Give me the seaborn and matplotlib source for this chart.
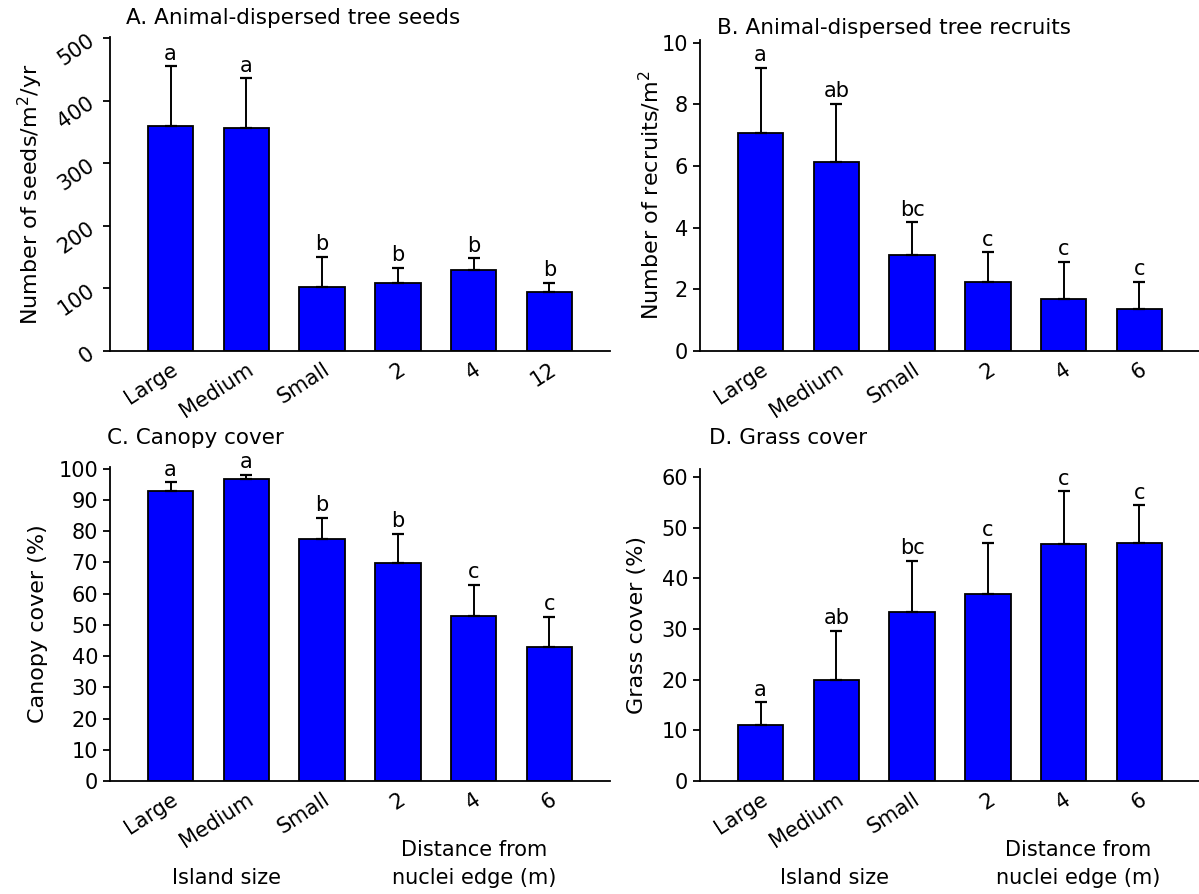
import numpy as np
import matplotlib
matplotlib.use("Agg")
import matplotlib.pyplot as plt
import seaborn as sns

# categories on the x axis
cats_a = ["Large", "Medium", "Small", "2", "4", "12"]
cats = ["Large", "Medium", "Small", "2", "4", "6"]

# A. seeds
seeds_mean = [360, 356, 103, 108, 130, 95]
seeds_se = [95, 80, 48, 25, 18, 14]
seeds_let = ["a", "a", "b", "b", "b", "b"]

# B. recruits
recr_mean = [7.08, 6.12, 3.12, 2.25, 1.70, 1.37]
recr_se = [2.10, 1.89, 1.05, 0.95, 1.20, 0.88]
recr_let = ["a", "ab", "bc", "c", "c", "c"]

# C. canopy cover
canopy_mean = [92.7, 96.8, 77.5, 69.9, 52.8, 42.9]
canopy_se = [2.9, 1.2, 6.6, 9.1, 9.9, 9.6]
canopy_let = ["a", "a", "b", "b", "c", "c"]

# D. grass cover
grass_mean = [11.1, 20.0, 33.3, 36.9, 46.8, 47.0]
grass_se = [4.4, 9.6, 10.1, 10.1, 10.4, 7.4]
grass_let = ["a", "ab", "bc", "c", "c", "c"]

sns.set_style("ticks")
plt.rcParams['font.family'] = ['DejaVu Sans']
plt.rcParams['mathtext.default'] = 'regular'
for k in ['text.color', 'axes.labelcolor', 'xtick.color', 'ytick.color', 'axes.edgecolor']:
    plt.rcParams[k] = 'black'
FS = 15      # ticks, letters, bottom labels
FT = 15.5    # panel titles
FL = 16      # y labels


def panel(ax, labels, mean, se, letters, ymax, yticks, ylabel, lab_x, ytick_rot=0):
    sns.barplot(x=labels, y=mean, order=labels, color="#0000ff", saturation=1,
                edgecolor="black", linewidth=1.3, width=0.6, ax=ax, errorbar=None)
    xs = np.arange(len(labels))
    ax.errorbar(xs, mean, yerr=[np.zeros(len(se)), se], fmt="none", ecolor="black",
                elinewidth=1.4, capsize=4, capthick=1.6)
    for x, m, s, t in zip(xs, mean, se, letters):
        ax.annotate(t, (x, m + s), xytext=(0, 2), textcoords="offset points",
                    ha="center", va="bottom", fontsize=FS)
    ax.set_xlim(-0.8, 5.8)
    ax.set_ylim(0, ymax)
    ax.set_yticks(yticks)
    sns.despine(ax=ax)
    for sp in ["left", "bottom"]:
        ax.spines[sp].set_linewidth(1.3)
    ax.tick_params(axis="x", length=0, pad=6, labelsize=FS)
    ax.tick_params(axis="y", length=5, width=1.3, labelsize=FS, labelrotation=ytick_rot)
    for lab in ax.get_xticklabels():
        lab.set_rotation(33)
        lab.set_ha("right")
        lab.set_rotation_mode("anchor")
    ax.set_xlabel("")
    ax.set_ylabel(ylabel, fontsize=FL)
    ax.yaxis.set_label_coords(lab_x, 0.5)
    return ax


fig = plt.figure(figsize=(11.99, 8.94), dpi=100)
W, H = 1199, 894

def box(l, r, t, b):
    return [l / W, 1 - b / H, (r - l) / W, (b - t) / H]

ax_a = fig.add_axes(box(110, 610, 37, 351))
ax_b = fig.add_axes(box(700, 1200, 40, 351))
ax_c = fig.add_axes(box(110, 610, 467, 781))
ax_d = fig.add_axes(box(700, 1200, 469, 781))

panel(ax_a, cats_a, seeds_mean, seeds_se, seeds_let, 502, range(0, 501, 100),
      "Number of seeds/m$^2$/yr", -0.13, ytick_rot=35)
panel(ax_b, cats, recr_mean, recr_se, recr_let, 10.09, range(0, 11, 2),
      "Number of recruits/m$^2$", -0.074)
panel(ax_c, cats, canopy_mean, canopy_se, canopy_let, 100.5, range(0, 101, 10),
      "Canopy cover (%)", -0.124)
panel(ax_d, cats, grass_mean, grass_se, grass_let, 61.6, range(0, 61, 10),
      "Grass cover (%)", -0.106)

fig.text(126 / W, 1 - 18 / H, "A. Animal-dispersed tree seeds", fontsize=FT, va="center")
fig.text(717 / W, 1 - 28 / H, "B. Animal-dispersed tree recruits", fontsize=FT, va="center")
fig.text(107 / W, 1 - 438 / H, "C. Canopy cover", fontsize=FT, va="center")
fig.text(709 / W, 1 - 438 / H, "D. Grass cover", fontsize=FT, va="center")

for cx_island, cx_dist in [(226, 474), (835, 1078)]:
    fig.text(cx_island / W, 1 - 878 / H, "Island size", fontsize=FS, ha="center", va="center")
    fig.text(cx_dist / W, 1 - 850 / H, "Distance from", fontsize=FS, ha="center", va="center")
    fig.text(cx_dist / W, 1 - 878 / H, "nuclei edge (m)", fontsize=FS, ha="center", va="center")

fig.savefig("out.png", dpi=100)
